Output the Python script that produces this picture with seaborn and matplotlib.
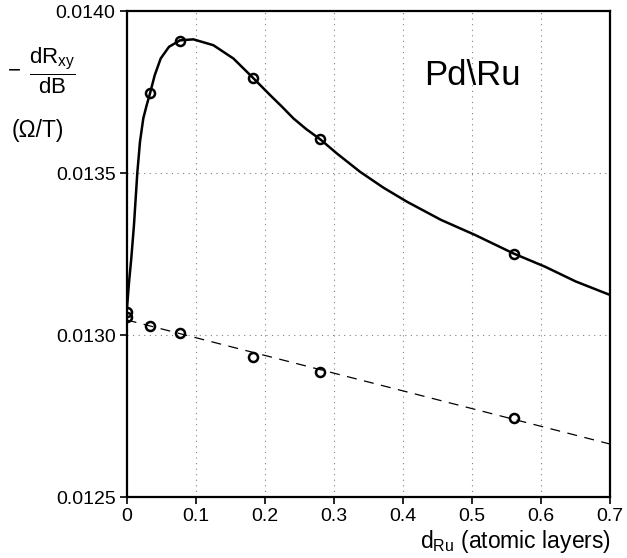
import seaborn as sns
import matplotlib.pyplot as plt
import numpy as np

# measured points (upper: total, lower: reference)
x_pts = [0.0, 0.0338, 0.0773, 0.1826, 0.2806, 0.5603]
y_upper = [0.013071, 0.013748, 0.013908, 0.013795, 0.013604, 0.013252]
y_lower = [0.013056, 0.013027, 0.013008, 0.012933, 0.012886, 0.012744]

# solid fit curve
curve_x = [0.0, 0.0033, 0.0067, 0.0106, 0.0154, 0.0193, 0.0241, 0.029, 0.0338, 0.0406,
           0.0493, 0.0613, 0.0773, 0.0966, 0.1255, 0.1545, 0.1826, 0.2077, 0.225,
           0.2415, 0.26, 0.2806, 0.3043, 0.3381, 0.372, 0.4058, 0.455, 0.5048,
           0.5603, 0.6062, 0.65, 0.7]
curve_y = [0.01307, 0.01316, 0.013237, 0.01334, 0.0135, 0.013597, 0.013669, 0.01371,
           0.013746, 0.013802, 0.013854, 0.01389, 0.01391, 0.013913, 0.013895,
           0.013854, 0.013795, 0.013741, 0.013705, 0.013669, 0.013636, 0.013604,
           0.013561, 0.013504, 0.013455, 0.013412, 0.013356, 0.013309, 0.013252,
           0.013211, 0.013166, 0.013124]

# dashed linear fit, end points
fit_x = [0.0, 0.7]
fit_y = [0.013047, 0.012664]

x_ticks = [0, 0.1, 0.2, 0.3, 0.4, 0.5, 0.6, 0.7]
x_ticklabels = ['0', '0.1', '0.2', '0.3', '0.4', '0.5', '0.6', '0.7']
y_ticks = [0.0125, 0.0130, 0.0135, 0.0140]
y_ticklabels = ['0.0125', '0.0130', '0.0135', '0.0140']

sns.set_style('white')
plt.rcParams['font.family'] = ['Liberation Sans', 'DejaVu Sans']
plt.rcParams['mathtext.fontset'] = 'custom'
plt.rcParams['mathtext.rm'] = 'Liberation Sans'
plt.rcParams['mathtext.it'] = 'Liberation Sans'
plt.rcParams['text.color'] = 'black'
plt.rcParams['xtick.color'] = 'black'
plt.rcParams['ytick.color'] = 'black'

fig = plt.figure(figsize=(6.27, 5.58), dpi=100)
ax = fig.add_axes([0.202, 0.109, 0.771, 0.871])

sns.lineplot(x=curve_x, y=curve_y, ax=ax, color='black', linewidth=1.8,
             sort=False, estimator=None, solid_joinstyle='round')
sns.lineplot(x=fit_x, y=fit_y, ax=ax, color='black', linewidth=0.9,
             linestyle=(0, (8, 6)), estimator=None)
ax.plot(x_pts, y_upper, 'o', ms=6.5, mfc='none', mec='black', mew=1.8)
ax.plot(x_pts, y_lower, 'o', ms=6.5, mfc='none', mec='black', mew=1.8)

ax.set_xlim(0, 0.7)
ax.set_ylim(0.0125, 0.0140)
ax.set_xticks(x_ticks)
ax.set_xticklabels(x_ticklabels, fontsize=14)
ax.set_yticks(y_ticks)
ax.set_yticklabels(y_ticklabels, fontsize=14)
ax.tick_params(direction='out', length=5, width=1.2, left=True, bottom=True, pad=3)

ax.grid(True, color='gray', linestyle=(0, (1, 4)), linewidth=0.8)
for s in ax.spines.values():
    s.set_linewidth(1.6)
    s.set_color('black')

ax.set_xlabel('')
ax.set_ylabel('')
fig.text(0.975, 0.006, r'd$_{\mathrm{Ru}}$ (atomic layers)', ha='right', va='bottom', fontsize=16.5)

fig.text(0.012, 0.873, '\u2212', ha='left', va='center', fontsize=16)
fig.text(0.084, 0.873, r'$\dfrac{\mathrm{dR_{xy}}}{\mathrm{dB}}$', ha='center', va='center', fontsize=16)
fig.text(0.061, 0.767, '(\u03a9/T)', ha='center', va='center', fontsize=16.5)

ax.text(0.5, 0.0138, 'Pd\\Ru', ha='center', va='center', fontsize=25)

fig.savefig('out.png', dpi=100)
